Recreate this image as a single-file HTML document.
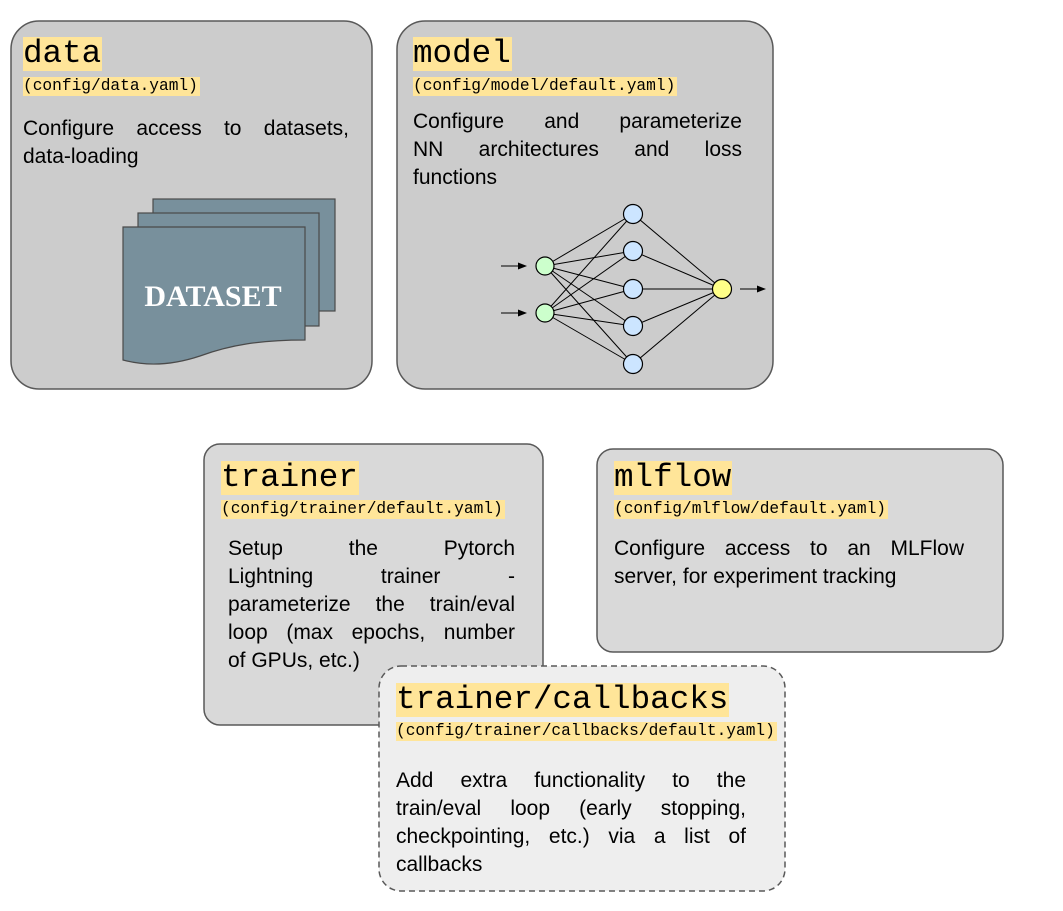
<!DOCTYPE html>
<html><head><meta charset="utf-8"><style>
body{margin:0;width:1063px;height:911px;background:#fff;position:relative;overflow:hidden;font-family:"Liberation Sans",sans-serif;}
svg{position:absolute;left:0;top:0}
.t{position:absolute;font-family:"Liberation Mono",monospace;font-size:32.6px;line-height:34px;height:34px;background:#ffe599;color:#000;padding-right:1px}
.s{position:absolute;font-family:"Liberation Mono",monospace;font-size:16.2px;line-height:19px;height:19px;background:#ffe599;color:#000;padding-right:2px}
.l{position:absolute;font-size:21px;line-height:28px;height:28px;text-align:justify;text-align-last:justify;color:#000;white-space:normal}
.e{text-align-last:left}
</style></head><body>
<svg width="1063" height="911">
<rect x="11" y="21" width="361" height="368" rx="28" fill="#cccccc" stroke="#595959" stroke-width="1.5"/>
<rect x="397" y="21" width="376" height="368" rx="28" fill="#cccccc" stroke="#595959" stroke-width="1.5"/>
<rect x="204" y="444" width="339" height="281" rx="16" fill="#d9d9d9" stroke="#595959" stroke-width="1.5"/>
<rect x="597" y="449" width="406" height="203" rx="16" fill="#d9d9d9" stroke="#595959" stroke-width="1.5"/>
<rect x="379" y="666" width="406" height="225" rx="22" fill="#eeeeee" stroke="#595959" stroke-width="1.5" stroke-dasharray="6,4"/>
<g fill="#78909c" stroke="#4a4a4a" stroke-width="1.2">
<rect x="153" y="199" width="182" height="112"/>
<rect x="138" y="213" width="181" height="113"/>
<path d="M123 227 H305 V340 C260 340 230 345 200 356 C170 366 145 366 123 360 Z"/>
</g>
<text x="213" y="306" text-anchor="middle" font-family="Liberation Serif" font-weight="bold" font-size="30" fill="#fff">DATASET</text>
<g stroke="#000" stroke-width="1">
<line x1="545" y1="266" x2="633" y2="214"/><line x1="545" y1="266" x2="633" y2="251"/><line x1="545" y1="266" x2="633" y2="289"/><line x1="545" y1="266" x2="633" y2="326"/><line x1="545" y1="266" x2="633" y2="364"/>
<line x1="545" y1="313" x2="633" y2="214"/><line x1="545" y1="313" x2="633" y2="251"/><line x1="545" y1="313" x2="633" y2="289"/><line x1="545" y1="313" x2="633" y2="326"/><line x1="545" y1="313" x2="633" y2="364"/>
<line x1="633" y1="214" x2="722" y2="289"/><line x1="633" y1="251" x2="722" y2="289"/><line x1="633" y1="289" x2="722" y2="289"/><line x1="633" y1="326" x2="722" y2="289"/><line x1="633" y1="364" x2="722" y2="289"/>
<line x1="501" y1="266" x2="520" y2="266"/><line x1="501" y1="313" x2="520" y2="313"/><line x1="740" y1="289" x2="758" y2="289"/>
</g>
<g fill="#000"><path d="M527 266 l-9 -3.5 v7z"/><path d="M527 313 l-9 -3.5 v7z"/><path d="M766 289 l-9 -3.5 v7z"/></g>
<g stroke="#000" stroke-width="1.2">
<circle cx="545" cy="266" r="9" fill="#ccffcc"/><circle cx="545" cy="313" r="9" fill="#ccffcc"/>
<circle cx="633" cy="214" r="9.5" fill="#cce5ff"/><circle cx="633" cy="251" r="9.5" fill="#cce5ff"/><circle cx="633" cy="289" r="9.5" fill="#cce5ff"/><circle cx="633" cy="326" r="9.5" fill="#cce5ff"/><circle cx="633" cy="364" r="9.5" fill="#cce5ff"/>
<circle cx="722" cy="289" r="9.5" fill="#ffff88"/>
</g>
</svg>

<div class="t" style="left:23px;top:37px">data</div>
<div class="s" style="left:23px;top:77px">(config/data.yaml)</div>
<div class="l" style="left:23px;top:115px;width:326px">Configure access to datasets,</div>
<div class="l e" style="left:23px;top:143px;width:326px">data-loading</div>

<div class="t" style="left:413px;top:37px">model</div>
<div class="s" style="left:413px;top:77px">(config/model/default.yaml)</div>
<div class="l" style="left:413px;top:108px;width:329px">Configure and parameterize</div>
<div class="l" style="left:413px;top:136px;width:329px">NN architectures and loss</div>
<div class="l e" style="left:413px;top:164px;width:329px">functions</div>

<div class="t" style="left:221px;top:461px">trainer</div>
<div class="s" style="left:221px;top:500px">(config/trainer/default.yaml)</div>
<div class="l" style="left:228px;top:535px;width:287px">Setup the Pytorch</div>
<div class="l" style="left:228px;top:563px;width:287px">Lightning trainer -</div>
<div class="l" style="left:228px;top:591px;width:287px">parameterize the train/eval</div>
<div class="l" style="left:228px;top:619px;width:287px">loop (max epochs, number</div>
<div class="l e" style="left:228px;top:647px;width:287px">of GPUs, etc.)</div>

<div class="t" style="left:614px;top:461px">mlflow</div>
<div class="s" style="left:614px;top:500px">(config/mlflow/default.yaml)</div>
<div class="l" style="left:614px;top:535px;width:350px">Configure access to an MLFlow</div>
<div class="l e" style="left:614px;top:563px;width:350px">server, for experiment tracking</div>

<div class="t" style="left:396px;top:683px">trainer/callbacks</div>
<div class="s" style="left:396px;top:722px">(config/trainer/callbacks/default.yaml)</div>
<div class="l" style="left:396px;top:767px;width:350px">Add extra functionality to the</div>
<div class="l" style="left:396px;top:795px;width:350px">train/eval loop (early stopping,</div>
<div class="l" style="left:396px;top:823px;width:350px">checkpointing, etc.) via a list of</div>
<div class="l e" style="left:396px;top:851px;width:350px">callbacks</div>
</body></html>
